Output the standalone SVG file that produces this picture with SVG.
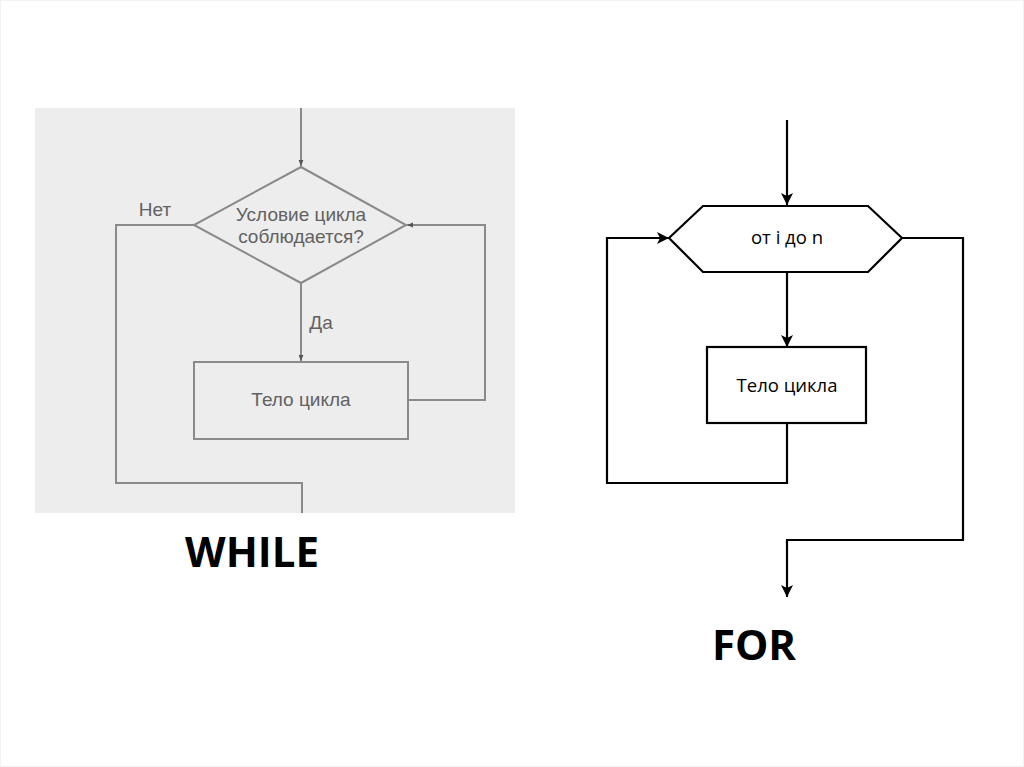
<svg xmlns="http://www.w3.org/2000/svg" width="1024" height="767" viewBox="0 0 1024 767">
<style>
.wl{fill:none;stroke:#8a8a8a;stroke-width:2}
.wt{font-family:"Liberation Sans",Arial,sans-serif;font-size:19px;fill:#626262;text-anchor:middle}
.fl{fill:none;stroke:#000;stroke-width:2.2}
.ft{font-family:"Open Sans","DejaVu Sans",sans-serif;font-size:18.5px;fill:#000;text-anchor:middle}
.title{font-family:"Open Sans","DejaVu Sans",sans-serif;font-weight:bold;font-size:42px;fill:#000;text-anchor:middle}
</style>
<defs>
<marker id="dot" viewBox="0 0 10 10" refX="10" refY="5" markerWidth="6" markerHeight="6" markerUnits="userSpaceOnUse" orient="auto">
<path d="M0,1 L10,5 L0,9 z" fill="#555"/>
</marker>
<marker id="arr" viewBox="0 0 12 12" refX="12" refY="6" markerWidth="12" markerHeight="12" markerUnits="userSpaceOnUse" orient="auto">
<path d="M0,0 L12,6 L0,12 L3,6 z" fill="#000"/>
</marker>
</defs>
<rect x="0" y="0" width="1024" height="767" fill="#fff"/>
<rect x="0.5" y="0.5" width="1023" height="766" fill="none" stroke="#f2f2f2"/>
<rect x="35" y="108" width="480" height="405" fill="#ededed"/>

<g id="while-connectors">
<path class="wl" d="M301,108 V166" marker-end="url(#dot)"/>
<path class="wl" d="M301,283 V361" marker-end="url(#dot)"/>
<path class="wl" d="M408,400 H485 V225 H407" marker-end="url(#dot)"/>
<path class="wl" d="M194,225 H116 V483 H302 V513"/>
</g>
<g id="while-cond">
<polygon class="wl" points="301,167 406,225 301,283 194,225" fill="#ededed"/>
<text class="wt" x="301" y="221">Условие цикла</text>
<text class="wt" x="301" y="243">соблюдается?</text>
</g>
<g id="while-body">
<rect class="wl" x="194" y="362" width="214" height="77" fill="#ededed"/>
<text class="wt" x="301" y="406">Тело цикла</text>
</g>
<g id="while-labels">
<text class="wt" x="155" y="216">Нет</text>
<text class="wt" x="321" y="329">Да</text>
</g>
<g id="while-title"><text class="title" x="252" y="567">WHILE</text></g>

<g id="for-connectors">
<path class="fl" d="M787,120 V205" marker-end="url(#arr)"/>
<path class="fl" d="M787,272 V347" marker-end="url(#arr)"/>
<path class="fl" d="M787,423 V483 H607 V238 H669" marker-end="url(#arr)"/>
<path class="fl" d="M902,238 H963 V540 H787 V597" marker-end="url(#arr)"/>
</g>
<g id="for-loop">
<polygon class="fl" points="669,238 703,206 868,206 902,238 868,272 703,272" fill="#fff"/>
<text class="ft" x="787" y="244">от i до n</text>
</g>
<g id="for-body">
<rect class="fl" x="707" y="347" width="159" height="76" fill="#fff"/>
<text class="ft" x="787" y="392">Тело цикла</text>
</g>
<g id="for-title"><text class="title" x="754" y="660">FOR</text></g>
</svg>
